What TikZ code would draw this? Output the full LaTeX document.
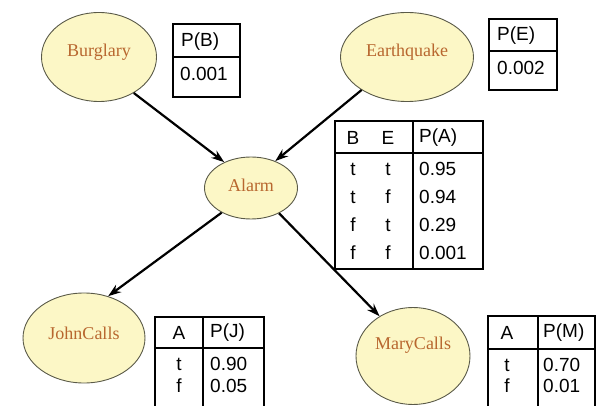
\documentclass[tikz,border=0pt]{standalone}
\usepackage{fontspec}
\setmainfont{Liberation Serif}
\setsansfont{Liberation Sans}
\usetikzlibrary{shapes.geometric,arrows.meta}
\definecolor{nodefill}{HTML}{FCF7C6}
\definecolor{nodeedge}{HTML}{5A5A48}
\definecolor{nodetext}{HTML}{B8672F}
\tikzset{
  varnode/.style={ellipse, draw=nodeedge, line width=0.9pt, fill=nodefill, inner sep=0pt},
  varname/.style={font=\fontsize{18}{18}\selectfont, text=nodetext, inner sep=0pt},
  cptbox/.style={draw=black, line width=2pt},
  cptrule/.style={draw=black, line width=1.3pt},
  cell/.style={font=\sffamily\fontsize{19}{19}\selectfont, inner sep=0pt},
  lcell/.style={cell, anchor=west},
  link/.style={draw=black, line width=2.2pt, -{Stealth[length=13pt,width=9pt]}}
}
\begin{document}
\begin{tikzpicture}[x=1pt, y=-1pt]
\useasboundingbox (0,0) rectangle (597,406);
\clip (0,0) rectangle (597,406);

% variables of the network
\node[varnode, minimum width=115pt, minimum height=89pt] (b) at (99,57) {};
\node[varname] (bt) at (99,52) {Burglary};
\node[varnode, minimum width=133pt, minimum height=89pt] (e) at (407,57) {};
\node[varname] (et) at (407,52) {Earthquake};
\node[varnode, minimum width=93pt, minimum height=62pt] (a) at (251,188) {};
\node[varname] (at) at (251,185) {Alarm};
\node[varnode, minimum width=122pt, minimum height=90pt] (j) at (84,338) {};
\node[varname] (jt) at (84,333) {JohnCalls};
\node[varnode, minimum width=114pt, minimum height=97pt] (m) at (413,356) {};
\node[varname] (mt) at (413,345) {MaryCalls};

% dependencies
\draw[link] (b.-46) -- (a.136);
\draw[link] (e.-144) -- (a.48);
\draw[link] (a.220) -- (j.60);
\draw[link] (a.-42) -- (m.130);

% P(B)
\draw[cptrule] (173,57) -- (240,57);
\draw[cptbox] (173,24) rectangle (240,97);
\node[lcell] (pbh) at (181,42) {P(B)};
\node[lcell] (pbv) at (180,74) {0.001};

% P(E)
\draw[cptrule] (489,51) -- (557,51);
\draw[cptbox] (489,19) rectangle (557,90);
\node[lcell] (peh) at (497,36) {P(E)};
\node[lcell] (pev) at (497,68) {0.002};

% P(A | B, E)
\draw[cptrule] (335,153) -- (483,153);
\draw[cptrule] (413,121) -- (413,269);
\draw[cptbox] (335,121) rectangle (483,269);
\node[cell] (pab) at (353,138) {B};
\node[cell] (pae) at (388,138) {E};
\node[lcell] (pah) at (419,138) {P(A)};
\node[cell] (pab1) at (353,169) {t};
\node[cell] (pae1) at (388,169) {t};
\node[lcell] (pav1) at (419,169) {0.95};
\node[cell] (pab2) at (353,197) {t};
\node[cell] (pae2) at (388,197) {f};
\node[lcell] (pav2) at (419,197) {0.94};
\node[cell] (pab3) at (353,225) {f};
\node[cell] (pae3) at (388,225) {t};
\node[lcell] (pav3) at (419,225) {0.29};
\node[cell] (pab4) at (353,253) {f};
\node[cell] (pae4) at (388,253) {f};
\node[lcell] (pav4) at (419,253) {0.001};

% P(J | A)
\draw[cptrule] (155,348) -- (264,348);
\draw[cptrule] (203,317) -- (203,412);
\draw[cptbox] (155,317) rectangle (264,412);
\node[cell] (pja) at (179,333) {A};
\node[lcell] (pjh) at (210,333) {P(J)};
\node[cell] (pja1) at (179,364) {t};
\node[lcell] (pjv1) at (210,364) {0.90};
\node[cell] (pja2) at (179,386) {f};
\node[lcell] (pjv2) at (210,386) {0.05};

% P(M | A)
\draw[cptrule] (488,349) -- (595,349);
\draw[cptrule] (538,316) -- (538,412);
\draw[cptbox] (488,316) rectangle (595,412);
\node[cell] (pma) at (507,333) {A};
\node[lcell] (pmh) at (543,333) {P(M)};
\node[cell] (pma1) at (507,365) {t};
\node[lcell] (pmv1) at (543,365) {0.70};
\node[cell] (pma2) at (507,386) {f};
\node[lcell] (pmv2) at (543,386) {0.01};
\end{tikzpicture}
\end{document}
